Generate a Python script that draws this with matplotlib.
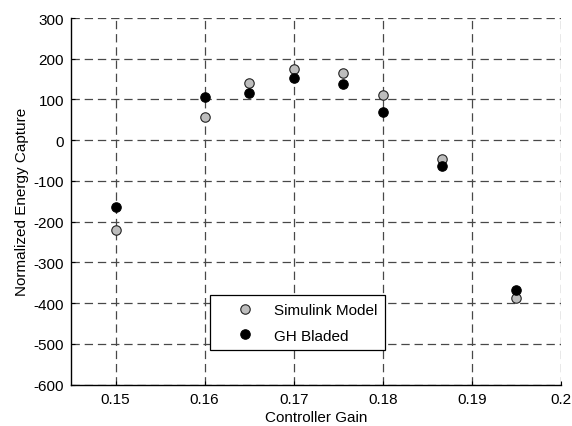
import matplotlib
matplotlib.use("Agg")
import matplotlib.pyplot as plt

plt.rcParams['font.family'] = ['Liberation Sans', 'DejaVu Sans']
plt.rcParams['lines.scale_dashes'] = False
plt.rcParams['axes.unicode_minus'] = False

# Controller gain values and normalized energy capture for each model
gain = [0.150, 0.160, 0.165, 0.170, 0.1755, 0.180, 0.1866, 0.195]
simulink = [-220, 58, 141, 175, 166, 110, -46, -387]
bladed = [-163, 105, 115, 152, 137, 70, -63, -367]

xticks = [0.15, 0.16, 0.17, 0.18, 0.19, 0.2]
xticklabels = ['0.15', '0.16', '0.17', '0.18', '0.19', '0.2']
yticks = [-600, -500, -400, -300, -200, -100, 0, 100, 200, 300]

fig = plt.figure(figsize=(5.72, 4.27), dpi=100)
ax = fig.add_axes([71 / 572, 1 - 385.7 / 427, 490 / 572, 366.7 / 427])

ax.set_xlim(0.145, 0.2)
ax.set_ylim(-600, 300)
ax.set_xticks(xticks)
ax.set_xticklabels(xticklabels)
ax.set_yticks(yticks)

ax.grid(True, color='#484848', linestyle=(0, (6, 3.5)), linewidth=0.9)
ax.set_axisbelow(True)

for side in ('top', 'right'):
    ax.spines[side].set_visible(False)
for side in ('left', 'bottom'):
    ax.spines[side].set_linewidth(1.0)

ax.tick_params(direction='in', length=3, width=0.8, labelsize=11, pad=5)

ax.plot(gain, simulink, linestyle='none', marker='o', markersize=6.8,
        markerfacecolor='#bdbdbd', markeredgecolor='#222222',
        markeredgewidth=0.8, label='Simulink Model', zorder=3)
ax.plot(gain, bladed, linestyle='none', marker='o', markersize=6.8,
        markerfacecolor='black', markeredgecolor='black',
        markeredgewidth=0.8, label='GH Bladed', zorder=3)

ax.set_xlabel('Controller Gain', fontsize=11, labelpad=3)
ax.set_ylabel('Normalized Energy Capture', fontsize=11, labelpad=3)

leg = ax.legend(loc='lower left', bbox_to_anchor=(0.284, 0.094),
                borderaxespad=0, fontsize=11, frameon=True, fancybox=False,
                edgecolor='black', framealpha=1, borderpad=0.5,
                handletextpad=0.15, labelspacing=0.75, handlelength=3.5)
leg.get_frame().set_linewidth(0.9)

fig.savefig('out.png', dpi=100)
